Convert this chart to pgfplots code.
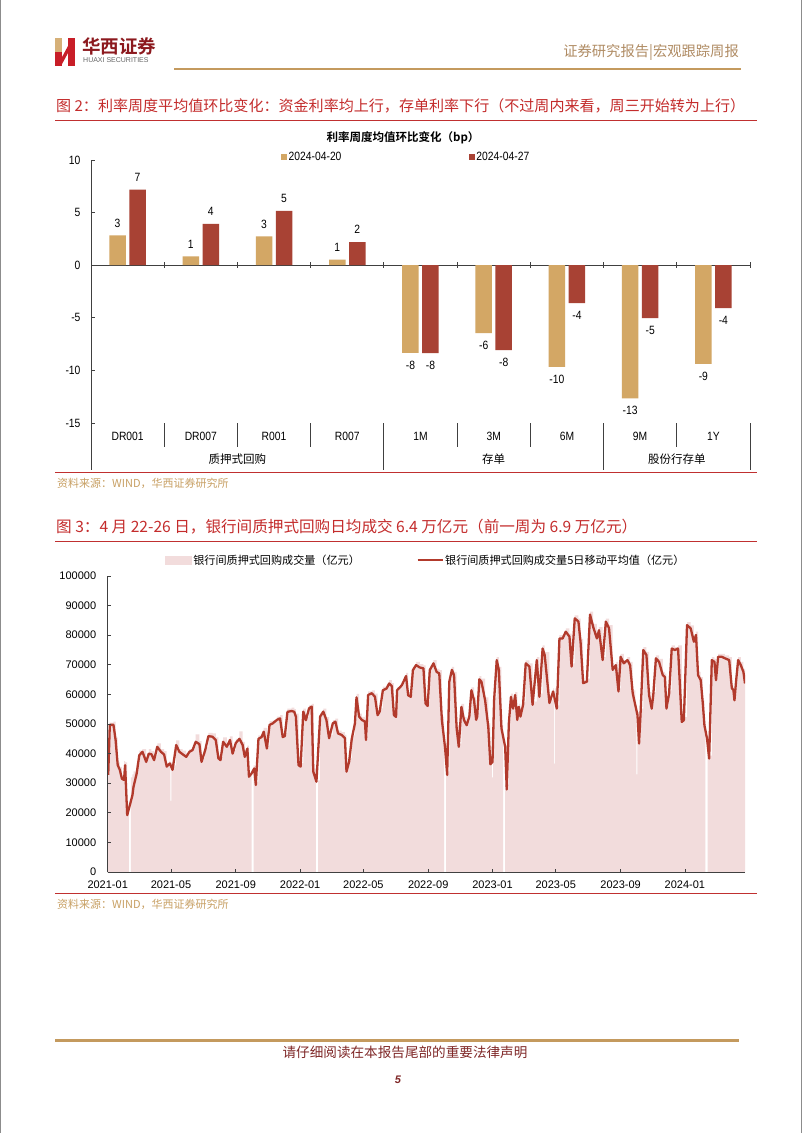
\documentclass[border=0pt]{standalone}
\usepackage{pgfplots}
\pgfplotsset{compat=1.18}
\usepackage{pgfplotstable}
\usepackage{fontspec}
\setmainfont{Liberation Sans}
\newfontfamily\cjk{Noto Sans CJK SC}[BoldFont={Noto Sans CJK SC Bold}]
\newfontfamily\narrow{Liberation Sans}[FakeStretch=0.86]
\newcommand\fs[1]{\fontsize{#1}{#1}\selectfont}

\definecolor{goldbar}{RGB}{211,167,101}
\definecolor{redbar}{RGB}{168,66,52}
\definecolor{pinkarea}{RGB}{242,220,220}
\definecolor{maline}{RGB}{178,58,44}
\definecolor{titred}{RGB}{196,44,44}
\definecolor{rulered}{RGB}{192,48,48}
\definecolor{goldrule}{RGB}{196,154,94}
\definecolor{hdrtext}{RGB}{176,140,100}
\definecolor{srctext}{RGB}{200,160,100}
\definecolor{foottext}{RGB}{128,40,40}
\definecolor{axisgray}{RGB}{64,64,64}
\definecolor{logogold}{RGB}{214,176,120}
\definecolor{logored}{RGB}{200,30,40}
\definecolor{logotext}{RGB}{140,25,30}

\pgfplotstableread{
i a b
1 2.83 7.18
2 0.83 3.92
3 2.74 5.17
4 0.52 2.20
5 -8.33 -8.36
6 -6.45 -8.07
7 -9.67 -3.60
8 -12.66 -5.04
9 -9.38 -4.08
}\ratetable

\pgfplotstableread{
d v
1 32800
4 49700
11 49700
15 44600
19 36100
23 34500
27 31500
31 31100
33 36100
37 19200
42 22600
47 26000
49 28800
55 33300
60 39500
66 40600
73 37200
78 40000
83 39800
88 37800
94 42300
101 40600
107 39700
112 35600
118 36700
123 34500
130 42900
136 40600
142 39800
149 38900
155 40600
161 41200
167 44000
174 43200
178 37200
185 41200
191 45900
199 45700
205 44600
210 38400
214 37800
219 44000
226 42300
232 44600
237 40000
243 43600
250 45000
256 42900
260 38900
265 41700
268 32200
273 33300
278 35000
281 29400
286 45000
292 45600
296 47400
302 41700
307 49700
313 50200
321 51400
327 51900
332 45600
336 45900
341 54100
349 54400
354 54100
357 52500
362 36100
366 35600
371 54200
376 51300
382 55300
387 55900
390 33900
396 30500
403 52500
409 54200
415 51300
420 45200
427 50200
432 50800
437 46800
444 46300
450 45200
453 33900
458 37300
463 45000
469 50200
472 59000
477 52500
482 51400
488 50800
490 44600
494 59800
501 60400
507 59200
512 53000
516 54200
522 61400
529 62000
534 63700
539 62800
543 53000
547 52400
549 61400
558 63100
566 66200
570 59700
575 59200
579 68200
585 69900
592 69100
599 68800
603 56900
607 56100
611 68200
618 70500
624 67600
629 67100
634 51300
640 42000
644 32800
648 64300
653 68300
657 66500
662 48500
666 42300
671 55800
676 51300
681 49600
686 52500
690 61400
695 58000
699 51400
701 52500
705 65100
709 64300
716 58000
722 49000
726 36400
730 37200
733 58000
738 71600
742 68300
747 48500
754 42300
757 27900
761 50200
765 59200
769 55200
773 59800
777 51400
780 55800
783 52500
788 56500
793 70500
800 69400
806 56500
814 71600
819 59200
825 75500
829 73300
838 57100
845 61000
852 55200
857 78900
863 78900
869 81200
876 79500
880 69400
886 85700
893 84600
897 77800
902 63800
909 64300
915 87000
921 82800
928 78900
932 81700
939 71600
945 84600
951 82400
958 68300
964 69900
969 61000
973 72700
979 70500
986 71600
991 69900
996 60400
1005 53000
1008 43400
1011 54100
1016 75000
1022 73300
1027 59800
1032 55200
1035 59800
1040 72200
1046 71000
1053 66500
1057 65900
1060 55200
1065 60300
1070 75500
1076 75000
1082 75500
1089 50700
1093 51300
1099 83400
1106 82300
1112 77800
1116 80100
1120 66500
1125 64800
1129 56900
1132 49600
1137 45000
1141 38300
1146 71600
1151 71000
1154 64800
1158 72700
1165 72700
1171 72200
1179 71600
1184 62100
1187 61500
1189 58000
1192 64300
1196 71600
1201 69900
1206 67600
1209 63700
}\matable

\pgfplotstableread{
d v
0 33000
3 50500
11 50800
15 45500
19 37000
23 35500
27 32500
31 37500
33 37000
37 20500
40 0
44 32000
47 33000
49 34000
55 36500
60 41000
66 41500
73 38500
78 41500
83 40800
88 39500
94 43500
101 41500
107 40800
112 36800
117 37500
119 24000
121 37000
123 36000
130 44500
136 41500
142 41000
149 40200
155 41500
161 42200
167 46500
174 44200
178 38500
185 42200
191 47000
199 46800
205 45500
210 39500
214 39000
219 45500
226 43500
232 45800
237 41200
243 45000
250 47500
256 44000
260 40000
265 42700
268 33500
273 0
277 36000
281 30500
286 46200
292 46800
296 48700
302 42800
307 51000
313 51200
321 52500
327 53000
332 46800
336 47000
341 55200
349 55500
354 55000
357 53500
362 37000
366 36800
371 55200
376 52300
382 56300
387 56800
391 35000
395 0
399 31000
403 53500
409 55200
415 52300
420 46300
427 51300
432 51800
437 47800
444 47300
450 46300
453 35000
458 38500
463 46200
469 51500
472 60200
477 53500
482 52400
488 51800
490 45800
494 61000
501 61400
507 60300
512 54200
516 55300
522 62600
529 63200
534 64800
539 63800
543 54200
547 53400
549 62400
558 64300
566 67300
570 60800
575 60300
579 69300
585 71000
592 70200
599 69800
603 58000
607 57200
611 69300
618 71600
624 68600
629 68200
634 52500
638 0
642 34000
644 34000
648 65300
653 69300
657 67600
662 49600
666 43400
671 56800
676 52300
681 50700
686 53600
690 62400
695 59000
699 52500
701 53600
705 66200
709 65300
716 59000
722 50200
726 37500
729 32000
731 38300
733 59000
738 72600
742 69300
747 49600
750 0
754 29500
757 29500
761 51300
765 60300
769 56300
773 60800
777 52500
780 56800
783 53600
788 57600
793 71500
800 70500
806 57600
814 72600
819 60300
825 76600
829 74300
838 58200
845 62000
847 36600
849 62000
852 56300
857 80000
863 80000
869 82300
876 80500
880 70500
886 86700
893 85600
897 78800
902 64800
909 65300
915 88000
921 83800
928 80000
932 82700
939 72600
945 85600
951 83400
958 69300
964 71000
969 62000
973 73700
979 71600
986 72600
991 71000
996 61400
1001 54500
1003 33000
1005 54000
1008 44500
1011 55200
1016 76000
1022 74400
1027 60800
1032 56300
1035 60800
1040 73200
1046 72000
1053 67600
1057 67000
1060 56300
1065 61400
1070 76600
1076 76000
1082 76600
1089 51800
1093 52300
1099 84400
1106 83300
1112 78800
1116 81200
1120 67600
1125 65800
1129 58000
1132 50600
1134 0
1138 46000
1141 39300
1146 72600
1151 72000
1154 65800
1158 73700
1165 73700
1171 73200
1179 72600
1184 63200
1187 62500
1189 59000
1192 65300
1196 72600
1201 71000
1206 68600
1209 64800
1211 64800
}\voltable

\begin{document}
\begin{tikzpicture}
\begin{scope}[x=1pt,y=1pt]
\useasboundingbox (0,0) rectangle (802,-1133);
\fill[white] (0,0) rectangle (802,-1133);
\draw[black!45, line width=0.8pt] (0.4,0)--(0.4,-1133);
\draw[black!45, line width=0.8pt] (801.6,0)--(801.6,-1133);

% ---------- header ----------
\fill[logogold] (55,-38) rectangle (61.5,-52);
\fill[logored] (55,-52) rectangle (61.5,-66);
\fill[logored] (68,-38) rectangle (75,-66);
\fill[logored] (61.5,-58) -- (68,-46) -- (68,-53) -- (61.5,-65) -- cycle;
\node[anchor=west, inner sep=0, text=logotext, font=\cjk\bfseries\fs{18.5}] at (82,-46) {华西证券};
\node[anchor=west, inner sep=0, text=black!60, font=\fs{7}] at (83,-60.5) {HUAXI SECURITIES};
\node[anchor=east, inner sep=0, text=hdrtext, font=\cjk\fs{14.3}] at (739,-52) {证券研究报告|宏观跟踪周报};
\draw[goldrule, line width=2pt] (174,-69) -- (741,-69);

% ---------- figure 2 header ----------
\node[anchor=west, inner sep=0, text=titred, font=\cjk\fs{15.05}] at (56,-106) {图 2：利率周度平均值环比变化：资金利率均上行，存单利率下行（不过周内来看，周三开始转为上行）};
\draw[rulered, line width=1pt] (55,-120) -- (757,-120);
\node[inner sep=0, font=\cjk\bfseries\fs{11.5}] at (403,-138) {利率周度均值环比变化（bp）};
\draw[rulered, line width=1pt] (55,-472) -- (757,-472);
\node[anchor=west, inner sep=0, text=srctext, font=\cjk\fs{11}] at (57,-483.5) {资料来源：WIND，华西证券研究所};

% ---------- figure 3 header ----------
\node[anchor=west, inner sep=0, text=titred, font=\cjk\fs{15.6}] at (56,-527) {图 3：4 月 22-26 日，银行间质押式回购日均成交 6.4 万亿元（前一周为 6.9 万亿元）};
\draw[rulered, line width=1pt] (55,-541) -- (757,-541);
\draw[rulered, line width=1pt] (55,-893) -- (757,-893);
\node[anchor=west, inner sep=0, text=srctext, font=\cjk\fs{11}] at (57,-904) {资料来源：WIND，华西证券研究所};

% ---------- footer ----------
\draw[goldrule, line width=3pt] (55,-1040) -- (739,-1040);
\node[inner sep=0, text=foottext, font=\cjk\fs{13.6}] at (405,-1052) {请仔细阅读在本报告尾部的重要法律声明};
\node[inner sep=0, text=foottext, font=\bfseries\itshape\fs{11}] at (398,-1080) {5};
\end{scope}

\begin{axis}[
  name=ax1,
  at={(91pt,-423pt)}, anchor=south west,
  scale only axis, width=659pt, height=263pt,
  xmin=0.5, xmax=9.5, ymin=-15, ymax=10,
  axis x line*=middle, axis y line*=left,
  axis line style={axisgray, line width=0.8pt, -},
  xtick=\empty, ytick={-15,-10,-5,0,5,10},
  tick align=inside, major tick length=4pt,
  every tick/.style={axisgray, line width=0.8pt},
  /pgf/number format/assume math mode=true,
  yticklabel style={font=\narrow\fs{12}, xshift=-7pt},
  ybar=3.5pt, bar width=16.5pt,
  clip=false,
  point meta=y,
  nodes near coords={\pgfmathprintnumber[fixed,precision=0]{\pgfplotspointmeta}},
  nodes near coords align={vertical},
  every node near coord/.append style={font=\narrow\fs{12}, inner ysep=8pt, inner xsep=1pt},
  legend columns=2,
  legend style={at={(0.478,1.011)}, anchor=center, draw=none, fill=none, font=\narrow\fs{12},
    nodes={inner sep=1.5pt},
    /tikz/every even column/.append style={column sep=126pt}},
  legend image code/.code={\fill[#1] (0pt,-3pt) rectangle (6pt,3pt);},
]
\addplot[fill=goldbar, draw=none] table[x=i, y=a] {\ratetable};
\addlegendentry{2024-04-20}
\addplot[fill=redbar, draw=none] table[x=i, y=b] {\ratetable};
\addlegendentry{2024-04-27}
% category axis decorations
\draw[axisgray, line width=0.8pt] (axis cs:0.5,-15) -- ++(0pt,-47pt);
\draw[axisgray, line width=0.8pt] (axis cs:1.5,-15) -- ++(0pt,-24pt);
\draw[axisgray, line width=0.8pt] (axis cs:2.5,-15) -- ++(0pt,-24pt);
\draw[axisgray, line width=0.8pt] (axis cs:3.5,-15) -- ++(0pt,-24pt);
\draw[axisgray, line width=0.8pt] (axis cs:4.5,-15) -- ++(0pt,-47pt);
\draw[axisgray, line width=0.8pt] (axis cs:5.5,-15) -- ++(0pt,-24pt);
\draw[axisgray, line width=0.8pt] (axis cs:6.5,-15) -- ++(0pt,-24pt);
\draw[axisgray, line width=0.8pt] (axis cs:7.5,-15) -- ++(0pt,-47pt);
\draw[axisgray, line width=0.8pt] (axis cs:8.5,-15) -- ++(0pt,-24pt);
\draw[axisgray, line width=0.8pt] (axis cs:9.5,-15) -- ++(0pt,-47pt);
\draw[axisgray, line width=0.8pt] (axis cs:1.5,0) ++(0pt,3pt) -- ++(0pt,-6pt);
\draw[axisgray, line width=0.8pt] (axis cs:2.5,0) ++(0pt,3pt) -- ++(0pt,-6pt);
\draw[axisgray, line width=0.8pt] (axis cs:3.5,0) ++(0pt,3pt) -- ++(0pt,-6pt);
\draw[axisgray, line width=0.8pt] (axis cs:4.5,0) ++(0pt,3pt) -- ++(0pt,-6pt);
\draw[axisgray, line width=0.8pt] (axis cs:5.5,0) ++(0pt,3pt) -- ++(0pt,-6pt);
\draw[axisgray, line width=0.8pt] (axis cs:6.5,0) ++(0pt,3pt) -- ++(0pt,-6pt);
\draw[axisgray, line width=0.8pt] (axis cs:7.5,0) ++(0pt,3pt) -- ++(0pt,-6pt);
\draw[axisgray, line width=0.8pt] (axis cs:8.5,0) ++(0pt,3pt) -- ++(0pt,-6pt);
\draw[axisgray, line width=0.8pt] (axis cs:9.5,0) ++(0pt,3pt) -- ++(0pt,-6pt);
\node[font=\narrow\fs{12}, inner sep=0] at (axis cs:1,-15) [yshift=-13pt] {DR001};
\node[font=\narrow\fs{12}, inner sep=0] at (axis cs:2,-15) [yshift=-13pt] {DR007};
\node[font=\narrow\fs{12}, inner sep=0] at (axis cs:3,-15) [yshift=-13pt] {R001};
\node[font=\narrow\fs{12}, inner sep=0] at (axis cs:4,-15) [yshift=-13pt] {R007};
\node[font=\narrow\fs{12}, inner sep=0] at (axis cs:5,-15) [yshift=-13pt] {1M};
\node[font=\narrow\fs{12}, inner sep=0] at (axis cs:6,-15) [yshift=-13pt] {3M};
\node[font=\narrow\fs{12}, inner sep=0] at (axis cs:7,-15) [yshift=-13pt] {6M};
\node[font=\narrow\fs{12}, inner sep=0] at (axis cs:8,-15) [yshift=-13pt] {9M};
\node[font=\narrow\fs{12}, inner sep=0] at (axis cs:9,-15) [yshift=-13pt] {1Y};
\node[font=\cjk\fs{11.5}, inner sep=0] at (axis cs:2.5,-15) [yshift=-36pt] {质押式回购};
\node[font=\cjk\fs{11.5}, inner sep=0] at (axis cs:6,-15) [yshift=-36pt] {存单};
\node[font=\cjk\fs{11.5}, inner sep=0] at (axis cs:8.5,-15) [yshift=-36pt] {股份行存单};
\end{axis}

\begin{axis}[
  name=ax2,
  at={(107.7pt,-872pt)}, anchor=south west,
  scale only axis, width=637.3pt, height=296pt,
  xmin=0, xmax=1209, ymin=0, ymax=100000,
  axis lines*=left, axis line style={axisgray, line width=0.8pt, -},
  axis on top,
  xtick={0,120,243,365,485,608,730,850,973,1095},
  xticklabels={2021-01,2021-05,2021-09,2022-01,2022-05,2022-09,2023-01,2023-05,2023-09,2024-01},
  ytick={0,10000,20000,30000,40000,50000,60000,70000,80000,90000,100000},
  scaled y ticks=false,
  /pgf/number format/assume math mode=true,
  yticklabel={\pgfmathprintnumber[fixed,precision=0,1000 sep={}]{\tick}},
  yticklabel style={font=\fs{11}, xshift=-8pt},
  xticklabel style={font=\fs{11}, yshift=-5pt},
  tick align=inside, major tick length=3pt,
  every tick/.style={axisgray, line width=0.8pt},
  legend columns=2,
  legend style={at={(0.4985,1.054)}, anchor=center, draw=none, fill=none, font=\cjk\fs{11.1},
    nodes={inner sep=1.5pt},
    /tikz/every even column/.append style={column sep=55pt}},
]
\addplot[fill=pinkarea, draw=none, const plot mark left,
  legend image code/.code={\fill[pinkarea] (0pt,-4.5pt) rectangle (27pt,4.5pt);}]
  table[x=d, y=v] {\voltable} \closedcycle;
\addlegendentry{银行间质押式回购成交量（亿元）}
\addplot[color=maline, line width=2.3pt, line join=round, mark=none,
  legend image code/.code={\draw[maline, line width=2.3pt] (0pt,0pt) -- (25pt,0pt);}]
  table[x=d, y=v] {\matable};
\addlegendentry{银行间质押式回购成交量5日移动平均值（亿元）}
\end{axis}
\end{tikzpicture}
\end{document}
